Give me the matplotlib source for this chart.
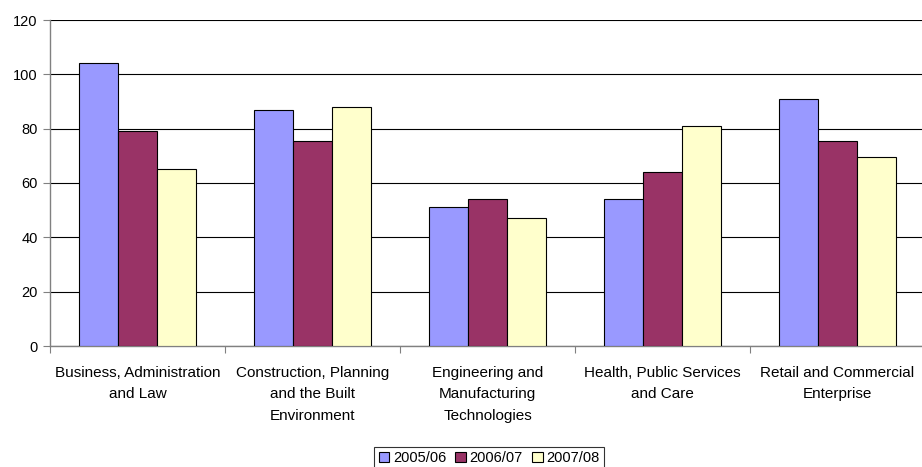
import matplotlib
matplotlib.use("Agg")
import matplotlib.pyplot as plt
import numpy as np

categories = ["Business, Administration\nand Law",
              "Construction, Planning\nand the Built\nEnvironment",
              "Engineering and\nManufacturing\nTechnologies",
              "Health, Public Services\nand Care",
              "Retail and Commercial\nEnterprise"]
series_names = ["2005/06", "2006/07", "2007/08"]
v2005 = [104, 87, 51, 54, 91]
v2006 = [79, 75.6, 54, 64, 75.6]
v2007 = [65, 88, 47.3, 81, 69.7]
yticks = [0, 20, 40, 60, 80, 100, 120]

colors = ["#9999FF", "#993366", "#FFFFCC"]

plt.rcParams['font.family'] = ['Liberation Sans', 'DejaVu Sans']

W, H = 922, 467
fig = plt.figure(figsize=(W / 100, H / 100), dpi=100)
left, right, top, bottom = 50, 925, 20, 346
ax = fig.add_axes([left / W, 1 - bottom / H, (right - left) / W, (bottom - top) / H])

x = np.arange(len(categories))
bw = 0.222
for i, (vals, name) in enumerate(zip([v2005, v2006, v2007], series_names)):
    ax.bar(x + (i - 1) * bw, vals, width=bw, color=colors[i], edgecolor="black",
           linewidth=0.8, label=name, zorder=3)

ax.set_xlim(-0.5, len(categories) - 0.5)
ax.set_ylim(0, 120)
ax.set_yticks(yticks)
ax.set_yticklabels([str(t) for t in yticks], fontsize=10.5)
ax.yaxis.grid(True, color="black", linewidth=0.8, zorder=0)
ax.set_axisbelow(True)

for s in ["top", "right"]:
    ax.spines[s].set_visible(False)
for s in ["left", "bottom"]:
    ax.spines[s].set_color("#808080")
    ax.spines[s].set_linewidth(1.0)

ax.set_xticks(np.arange(len(categories) + 1) - 0.5, minor=False)
ax.set_xticklabels([])
ax.tick_params(axis="x", length=5, color="#808080", direction="out")
ax.tick_params(axis="y", length=5, color="#808080", direction="out", pad=4)

for i, c in enumerate(categories):
    ax.text(i, -7.3, c, ha="center", va="top", fontsize=11,
            linespacing=1.68, transform=ax.transData, clip_on=False)

leg = fig.legend(loc="lower center", bbox_to_anchor=(489 / W, -0.005), ncol=3,
                 fontsize=10.5, frameon=True, fancybox=False, edgecolor="black",
                 handlelength=0.75, handleheight=0.75, handletextpad=0.25,
                 columnspacing=0.6, borderpad=0.3, borderaxespad=0)
leg.get_frame().set_linewidth(0.8)

fig.savefig("out.png", dpi=100)
